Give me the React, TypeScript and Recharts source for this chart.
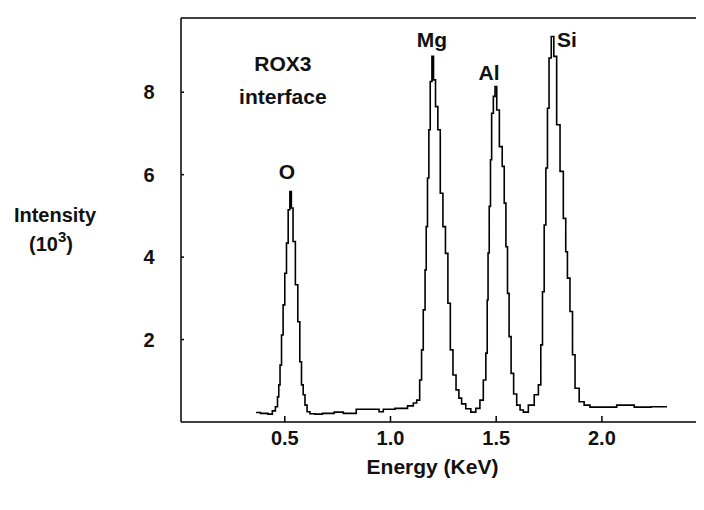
import React from 'react';
import { LineChart, Line, XAxis, YAxis, ReferenceLine, ReferenceDot } from 'recharts';

// spectrum: energy (keV) and counts (x10^3)
const energyKeV = [
  0.364, 0.406, 0.433, 0.449, 0.462, 0.469, 0.474, 0.481, 0.488, 0.496,
  0.504, 0.512, 0.52, 0.528, 0.534, 0.544, 0.556, 0.567, 0.575, 0.583,
  0.591, 0.6, 0.611, 0.627, 0.658, 0.698, 0.769, 0.785, 0.824, 0.852,
  0.942, 0.95, 0.982, 1.061, 1.1, 1.116, 1.132, 1.144, 1.15, 1.16,
  1.167, 1.171, 1.179, 1.184, 1.192, 1.2, 1.207, 1.219, 1.229, 1.242,
  1.254, 1.266, 1.277, 1.289, 1.302, 1.318, 1.329, 1.344, 1.368, 1.392,
  1.415, 1.431, 1.447, 1.455, 1.46, 1.463, 1.471, 1.475, 1.482, 1.491,
  1.498, 1.507, 1.523, 1.534, 1.542, 1.55, 1.557, 1.565, 1.576, 1.589,
  1.605, 1.621, 1.636, 1.668, 1.692, 1.707, 1.715, 1.723, 1.731, 1.739,
  1.746, 1.754, 1.767, 1.778, 1.794, 1.81, 1.825, 1.833, 1.841, 1.857,
  1.865, 1.881, 1.904, 1.928, 1.959, 2.054, 2.086, 2.149, 2.157, 2.308,
];

const intensity = [
  0.23, 0.21, 0.19, 0.27, 0.37, 0.61, 0.9, 1.38, 2.11, 2.84,
  3.61, 4.34, 5.15, 5.59, 5.19, 4.38, 3.33, 2.43, 1.46, 0.9,
  0.66, 0.41, 0.25, 0.2, 0.19, 0.21, 0.24, 0.21, 0.21, 0.31,
  0.31, 0.25, 0.31, 0.33, 0.39, 0.46, 0.53, 1.02, 1.75, 2.72,
  3.69, 4.74, 5.92, 7.09, 8.26, 8.87, 8.3, 7.65, 7.09, 5.55,
  4.74, 4.09, 2.88, 1.75, 1.14, 0.78, 0.58, 0.44, 0.32, 0.24,
  0.33, 0.53, 1.02, 1.67, 2.96, 4.1, 5.23, 6.36, 7.49, 7.9,
  8.14, 7.57, 6.68, 6.2, 5.31, 4.25, 3.12, 2.07, 1.18, 0.68,
  0.41, 0.29, 0.24, 0.41, 0.66, 0.9, 1.87, 3.16, 4.78, 6.16,
  7.61, 8.83, 9.35, 8.87, 7.21, 6.08, 4.94, 4.13, 3.49, 2.68,
  1.63, 0.82, 0.49, 0.41, 0.36, 0.36, 0.41, 0.41, 0.36, 0.37,
];

const xTicks = [0.5, 1.0, 1.5, 2.0];
const yTicks = [2, 4, 6, 8];

// text placed on the plot, in data units
const noteText = ['ROX3', 'interface', 'O', 'Mg', 'Al', 'Si'];
const noteX = [0.491, 0.491, 0.51, 1.196, 1.466, 1.835];
const noteY = [8.69, 7.89, 6.07, 9.27, 8.47, 9.27];

const data = energyKeV.map((e, i) => ({ e, v: intensity[i] }));

const FONT = '"Liberation Sans", Arial, sans-serif';

const XTick = (props: any) => {
  const { x, y, payload } = props;
  return (
    <g>
      <line x1={x} y1={y} x2={x} y2={y - 6} stroke="#000" strokeWidth={1.5} />
      <text x={x} y={y + 23} textAnchor="middle" fontFamily={FONT} fontWeight="bold" fontSize={20} fill="#111">
        {Number(payload.value).toFixed(1)}
      </text>
    </g>
  );
};

const YTick = (props: any) => {
  const { x, y, payload } = props;
  return (
    <g>
      <line x1={x} y1={y} x2={x + 3} y2={y} stroke="#000" strokeWidth={1.5} />
      <text x={x - 32} y={y + 7} textAnchor="middle" fontFamily={FONT} fontWeight="bold" fontSize={20} fill="#111">
        {payload.value}
      </text>
    </g>
  );
};

const Note = (text: string) => (props: any) => (
  <text
    x={props.cx}
    y={props.cy}
    textAnchor="middle"
    dominantBaseline="central"
    fontFamily={FONT}
    fontWeight="bold"
    fontSize={21}
    fill="#111"
  >
    {text}
  </text>
);

const YTitle = (props: any) => {
  const { viewBox } = props;
  const cx = viewBox.x + 47;
  const cy = 207;
  return (
    <g fontFamily={FONT} fontWeight="bold" fill="#111">
      <text x={cx} y={cy} textAnchor="middle" fontSize={20} dominantBaseline="central">
        Intensity
      </text>
      <text x={cx - 4} y={cy + 36} textAnchor="middle" fontSize={20}>
        (10<tspan dy={-9} fontSize={15}>3</tspan><tspan dy={9}>)</tspan>
      </text>
    </g>
  );
};

const XTitle = (props: any) => {
  const { viewBox } = props;
  return (
    <text
      x={viewBox.x + viewBox.width / 2 - 10}
      y={viewBox.y + 52}
      textAnchor="middle"
      fontFamily={FONT}
      fontWeight="bold"
      fontSize={21}
      fill="#111"
    >
      Energy (KeV)
    </text>
  );
};

export default function App() {
  return (
    <div style={{ width: 696, height: 502, background: '#fff' }}>
      <LineChart width={696} height={502} data={data} margin={{ top: 10, right: 0, bottom: 0, left: 0 }}>
        <XAxis
          dataKey="e"
          type="number"
          domain={[0.009, 2.483]}
          ticks={xTicks}
          interval={0}
          allowDataOverflow
          height={88}
          tickSize={0}
          tickMargin={0}
          tick={<XTick />}
          axisLine={{ stroke: '#000', strokeWidth: 1.5 }}
          label={<XTitle />}
        />
        <YAxis
          type="number"
          domain={[0, 9.8]}
          ticks={yTicks}
          interval={0}
          allowDataOverflow
          width={173}
          tickSize={0}
          tickMargin={0}
          tick={<YTick />}
          axisLine={{ stroke: '#000', strokeWidth: 1.5 }}
          label={<YTitle />}
        />
        <ReferenceLine y={9.8} stroke="#000" strokeWidth={1.5} />
        <Line
          type="step"
          dataKey="v"
          stroke="#000"
          strokeWidth={1.6}
          dot={false}
          isAnimationActive={false}
        />
        {noteText.map((t, i) => (
          <ReferenceDot key={t} x={noteX[i]} y={noteY[i]} r={1} shape={Note(t)} />
        ))}
      </LineChart>
    </div>
  );
}
